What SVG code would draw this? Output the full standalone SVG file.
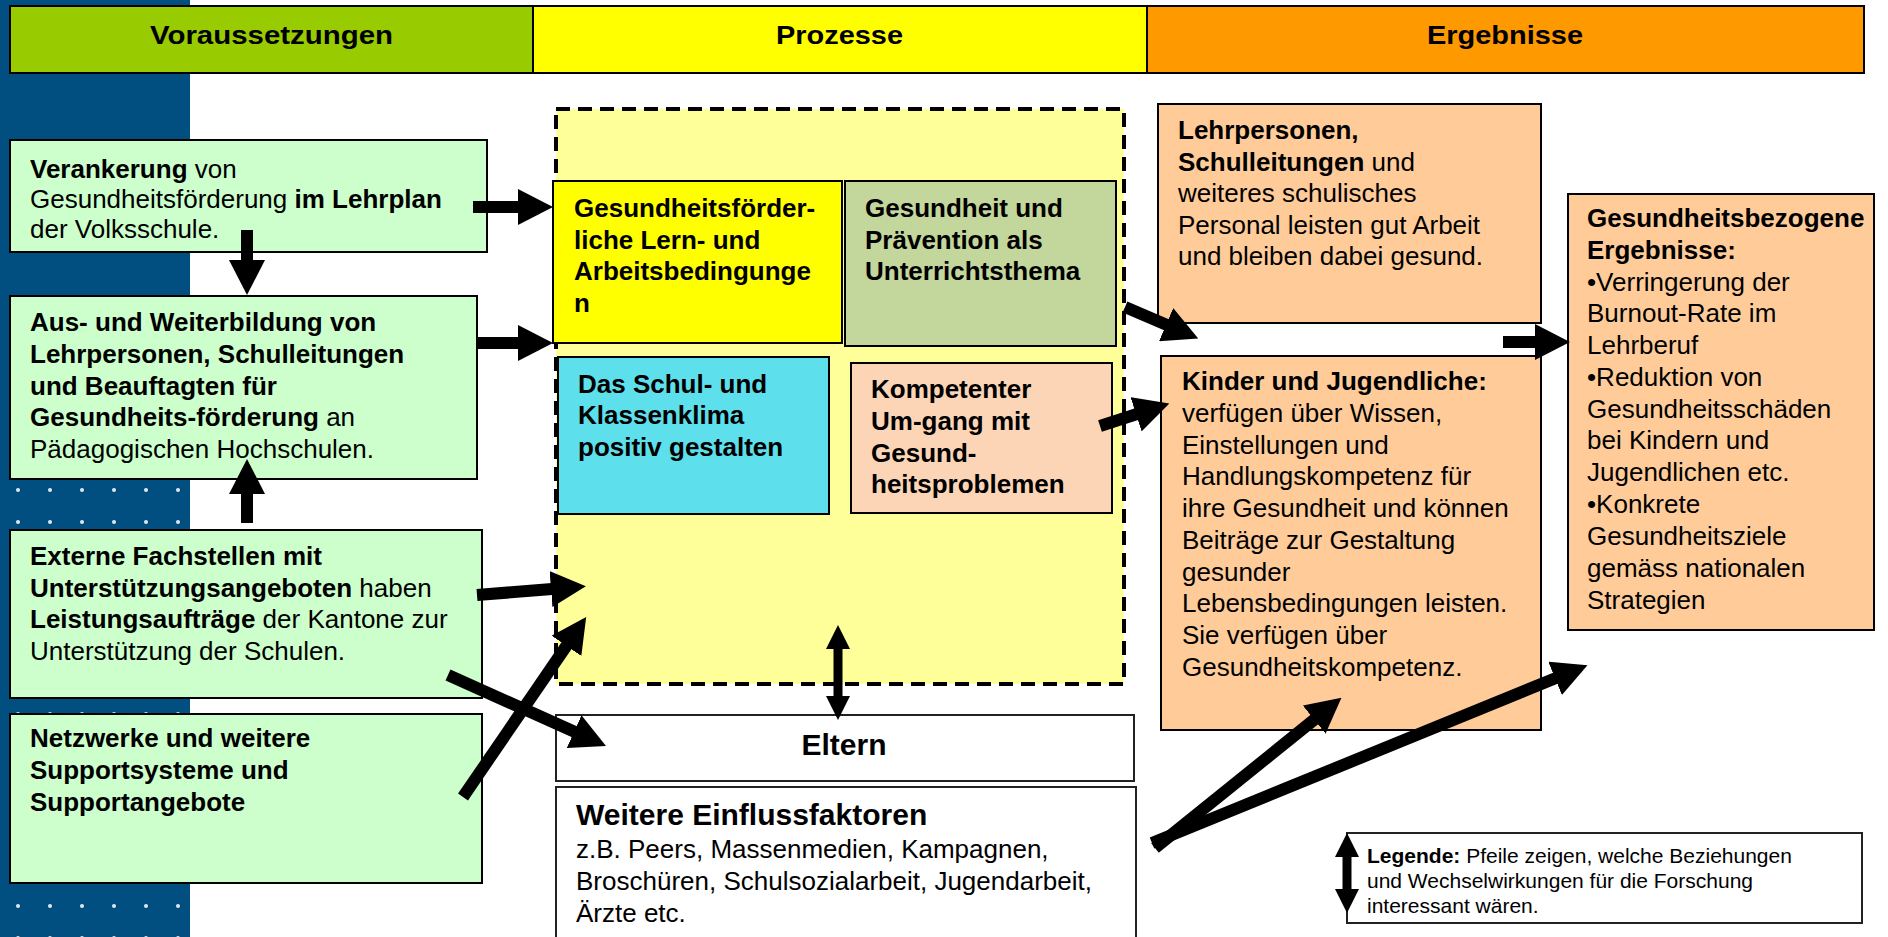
<svg xmlns="http://www.w3.org/2000/svg" width="1888" height="937" viewBox="0 0 1888 937">
<defs>
<style>
text{font-family:'Liberation Sans',Arial,Helvetica,sans-serif;fill:#000}
.t{font-size:26px}
.b{font-weight:bold}
.hd{font-size:25px;font-weight:bold}
.lg{font-size:21px}
.el{font-size:30px;font-weight:bold}
.box{stroke:#000;stroke-width:2}
.wbox{fill:#fff;stroke:#222;stroke-width:2}
.green{fill:#ccffcc}
.peach{fill:#ffcc99}
.conn{stroke:#000;fill:none}
.thick{stroke-width:12;marker-end:url(#ah)}
.thin{stroke-width:9;marker-start:url(#ahs);marker-end:url(#ahs)}
</style>
<marker id="ah" markerUnits="userSpaceOnUse" markerWidth="35" markerHeight="36" viewBox="0 0 35 36" refX="1" refY="18" orient="auto"><path d="M0,0 L35,18 L0,36 z" fill="#000"/></marker>
<marker id="ahs" markerUnits="userSpaceOnUse" markerWidth="24" markerHeight="24" viewBox="0 0 24 24" refX="1" refY="12" orient="auto-start-reverse"><path d="M0,0 L24,12 L0,24 z" fill="#000"/></marker>
<pattern id="dots" patternUnits="userSpaceOnUse" x="2" y="474" width="32" height="32"><circle cx="16" cy="16" r="2" fill="#dde8f4"/></pattern>
</defs>

<rect x="0" y="0" width="1888" height="937" fill="#fff"/>
<g id="background">
<rect x="0" y="0" width="190" height="937" fill="#004f80"/>
<rect x="0" y="474" width="190" height="463" fill="url(#dots)"/>
</g>

<g id="header">
<rect x="10" y="6" width="523" height="67" fill="#99cc00" class="box"/>
<rect x="533" y="6" width="614" height="67" fill="#ffff00" class="box"/>
<rect x="1147" y="6" width="717" height="67" fill="#ff9900" class="box"/>
<text class="hd" x="150" y="44" textLength="243" lengthAdjust="spacingAndGlyphs">Voraussetzungen</text>
<text class="hd" x="776" y="44" textLength="127" lengthAdjust="spacingAndGlyphs">Prozesse</text>
<text class="hd" x="1427" y="44" textLength="156" lengthAdjust="spacingAndGlyphs">Ergebnisse</text>
</g>

<g id="n-verankerung">
<rect x="10" y="140" width="477" height="112" class="box green"/>
<text class="t" x="30" y="178"><tspan class="b">Verankerung</tspan> von</text>
<text class="t" x="30" y="208">Gesundheitsförderung <tspan class="b">im Lehrplan</tspan></text>
<text class="t" x="30" y="238">der Volksschule.</text>
</g>

<g id="n-ausbildung">
<rect x="10" y="296" width="467" height="183" class="box green"/>
<text class="t b" x="30" y="331">Aus- und Weiterbildung von</text>
<text class="t b" x="30" y="363">Lehrpersonen, Schulleitungen</text>
<text class="t b" x="30" y="395">und Beauftagten für</text>
<text class="t" x="30" y="426"><tspan class="b">Gesundheits-förderung</tspan> an</text>
<text class="t" x="30" y="458">Pädagogischen Hochschulen.</text>
</g>

<g id="n-externe">
<rect x="10" y="530" width="472" height="168" class="box green"/>
<text class="t b" x="30" y="565">Externe Fachstellen mit</text>
<text class="t" x="30" y="597"><tspan class="b">Unterstützungsangeboten</tspan> haben</text>
<text class="t" x="30" y="628"><tspan class="b">Leistungsaufträge</tspan> der Kantone zur</text>
<text class="t" x="30" y="660">Unterstützung der Schulen.</text>
</g>

<g id="n-netzwerke">
<rect x="10" y="714" width="472" height="169" class="box green"/>
<text class="t b" x="30" y="747">Netzwerke und weitere</text>
<text class="t b" x="30" y="779">Supportsysteme und</text>
<text class="t b" x="30" y="811">Supportangebote</text>
</g>

<g id="n-prozesse">
<rect x="556" y="109" width="568" height="575" fill="#ffff99" stroke="#000" stroke-width="4" stroke-dasharray="14 8"/>
</g>

<g id="n-lernbedingungen">
<rect x="553" y="181" width="289" height="162" fill="#ffff00" class="box"/>
<text class="t b" x="574" y="217">Gesundheitsförder-</text>
<text class="t b" x="574" y="249">liche Lern- und</text>
<text class="t b" x="574" y="280">Arbeitsbedingunge</text>
<text class="t b" x="574" y="312">n</text>
</g>

<g id="n-unterrichtsthema">
<rect x="845" y="181" width="271" height="165" fill="#c3d69b" class="box"/>
<text class="t b" x="865" y="217">Gesundheit und</text>
<text class="t b" x="865" y="249">Prävention als</text>
<text class="t b" x="865" y="280">Unterrichtsthema</text>
</g>

<g id="n-klima">
<rect x="558" y="357" width="271" height="157" fill="#5ddfec" class="box"/>
<text class="t b" x="578" y="393">Das Schul- und</text>
<text class="t b" x="578" y="424">Klassenklima</text>
<text class="t b" x="578" y="456">positiv gestalten</text>
</g>

<g id="n-kompetenter">
<rect x="851" y="363" width="261" height="150" fill="#fbd5b5" class="box"/>
<text class="t b" x="871" y="398">Kompetenter</text>
<text class="t b" x="871" y="430">Um-gang mit</text>
<text class="t b" x="871" y="462">Gesund-</text>
<text class="t b" x="871" y="493">heitsproblemen</text>
</g>

<g id="n-eltern">
<rect x="556" y="715" width="578" height="66" class="wbox"/>
<text class="el" x="844" y="755" text-anchor="middle">Eltern</text>
</g>

<g id="n-weitere">
<rect x="556" y="787" width="580" height="160" class="wbox"/>
<text class="b" style="font-size:30px" x="576" y="825">Weitere Einflussfaktoren</text>
<text class="t" x="576" y="858">z.B. Peers, Massenmedien, Kampagnen,</text>
<text class="t" x="576" y="890">Broschüren, Schulsozialarbeit, Jugendarbeit,</text>
<text class="t" x="576" y="922">Ärzte etc.</text>
</g>

<g id="n-lehrpersonen">
<rect x="1158" y="104" width="383" height="219" class="box peach"/>
<text class="t b" x="1178" y="139">Lehrpersonen,</text>
<text class="t" x="1178" y="171"><tspan class="b">Schulleitungen</tspan> und</text>
<text class="t" x="1178" y="202">weiteres schulisches</text>
<text class="t" x="1178" y="234">Personal leisten gut Arbeit</text>
<text class="t" x="1178" y="265">und bleiben dabei gesund.</text>
</g>

<g id="n-kinder">
<rect x="1161" y="356" width="380" height="374" class="box peach"/>
<text class="t b" x="1182" y="390">Kinder und Jugendliche:</text>
<text class="t" x="1182" y="422">verfügen über Wissen,</text>
<text class="t" x="1182" y="454">Einstellungen und</text>
<text class="t" x="1182" y="485">Handlungskompetenz für</text>
<text class="t" x="1182" y="517">ihre Gesundheit und können</text>
<text class="t" x="1182" y="549">Beiträge zur Gestaltung</text>
<text class="t" x="1182" y="581">gesunder</text>
<text class="t" x="1182" y="612">Lebensbedingungen leisten.</text>
<text class="t" x="1182" y="644">Sie verfügen über</text>
<text class="t" x="1182" y="676">Gesundheitskompetenz.</text>
</g>

<g id="n-gesundheitsbezogen">
<rect x="1568" y="194" width="306" height="436" class="box peach"/>
<text class="t b" x="1587" y="227">Gesundheitsbezogene</text>
<text class="t b" x="1587" y="259">Ergebnisse:</text>
<text class="t" x="1587" y="291">•Verringerung der</text>
<text class="t" x="1587" y="322">Burnout-Rate im</text>
<text class="t" x="1587" y="354">Lehrberuf</text>
<text class="t" x="1587" y="386">•Reduktion von</text>
<text class="t" x="1587" y="418">Gesundheitsschäden</text>
<text class="t" x="1587" y="449">bei Kindern und</text>
<text class="t" x="1587" y="481">Jugendlichen etc.</text>
<text class="t" x="1587" y="513">•Konkrete</text>
<text class="t" x="1587" y="545">Gesundheitsziele</text>
<text class="t" x="1587" y="577">gemäss nationalen</text>
<text class="t" x="1587" y="609">Strategien</text>
</g>

<g id="n-legende">
<rect x="1347" y="833" width="515" height="90" class="wbox"/>
<text class="lg" x="1367" y="863"><tspan class="b">Legende:</tspan> Pfeile zeigen, welche Beziehungen</text>
<text class="lg" x="1367" y="888">und Wechselwirkungen für die Forschung</text>
<text class="lg" x="1367" y="913">interessant wären.</text>
</g>

<g id="connectors" class="conn">
<path class="thick" d="M473,207 L519,207"/>
<path class="thick" d="M477,343 L519,343"/>
<path class="thick" d="M247,230 L247,261"/>
<path class="thick" d="M247,523 L247,493"/>
<path class="thick" d="M477,595 L552,589"/>
<path class="thick" d="M463,797 L567,645"/>
<path class="thick" d="M448,675 L575,732"/>
<path class="thick" d="M1125,307 L1167,325"/>
<path class="thick" d="M1100,426 L1137,414"/>
<path class="thick" d="M1503,342 L1536,342"/>
<path class="thick" d="M1155,848 L1315,719"/>
<path class="thick" d="M1152,843 L1556,678"/>
<path class="thin" d="M838,648 L838,697"/>
<path class="thin" d="M1347,856 L1347,890"/>
</g>
</svg>
